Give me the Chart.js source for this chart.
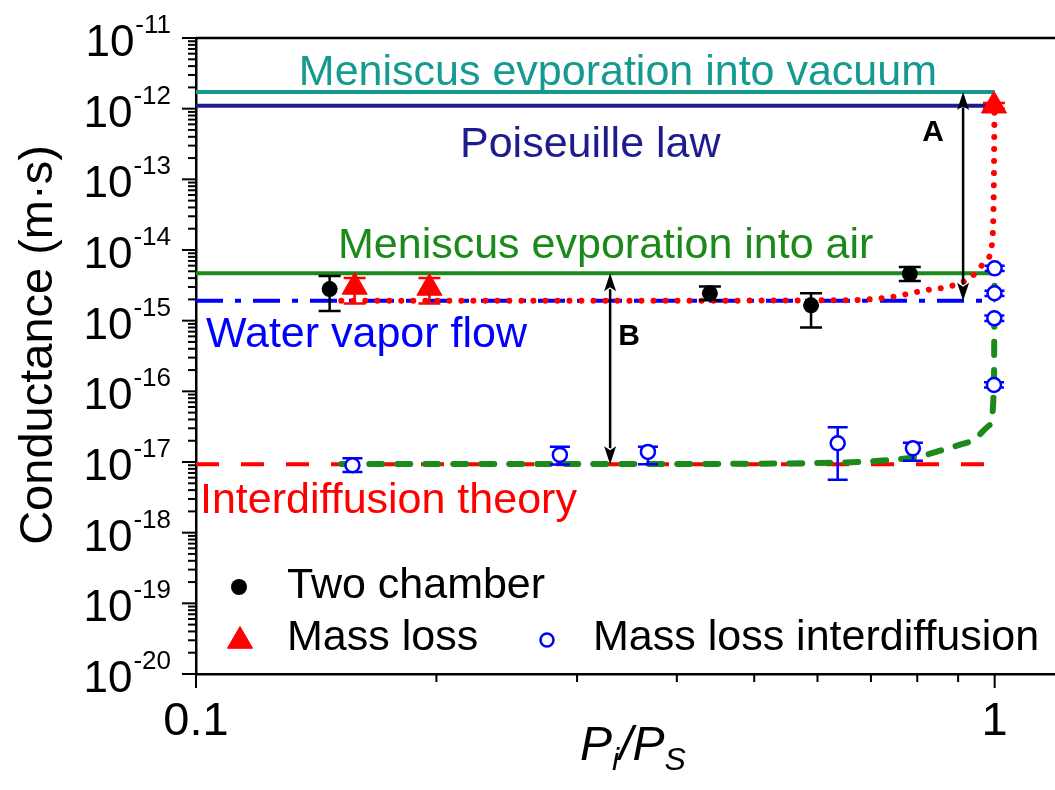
<!DOCTYPE html>
<html><head><meta charset="utf-8">
<script src="https://cdn.jsdelivr.net/npm/chart.js@4.4.1/dist/chart.umd.min.js"></script>
<style>html,body{margin:0;padding:0;background:#fff;overflow:hidden}canvas{display:block}</style>
</head><body>
<canvas id="c" width="1055" height="790"></canvas>
<script>
// ---------------- data ----------------
const xMajorTicks = [0.1, 1];
const xTickLabels = ['0.1', '1'];
const xMinorTicks = [0.2, 0.3, 0.4, 0.5, 0.6, 0.7, 0.8, 0.9];
const yMajorExponents = [-20, -19, -18, -17, -16, -15, -14, -13, -12, -11];
const yMinorFactors = [2, 3, 4, 5, 6, 7, 8, 9];

const twoChamberX    = [0.147, 0.44, 0.589, 0.783];
const twoChamberY    = [2.8e-15, 2.44e-15, 1.65e-15, 4.6e-15];
const twoChamberLow  = [1.37e-15, 1.95e-15, 8.0e-16, 3.65e-15];
const twoChamberHigh = [4.3e-15, 3.05e-15, 2.45e-15, 5.75e-15];

const massLossX    = [0.158, 0.196, 0.998];
const massLossY    = [3.0e-15, 2.9e-15, 1.1e-12];
const massLossLow  = [1.75e-15, 1.75e-15, 1.0e-12];
const massLossHigh = [4.0e-15, 4.0e-15, 1.2e-12];

const interX    = [0.157, 0.2855, 0.368, 0.636, 0.79, 0.998, 0.999, 0.9995, 1.0];
const interY    = [9.0e-18, 1.26e-17, 1.39e-17, 1.84e-17, 1.56e-17, 1.23e-16, 1.08e-15, 2.44e-15, 5.5e-15];
const interLow  = [7.2e-18, 9.2e-18, 9.3e-18, 5.6e-18, 1.04e-17, 1.13e-16, 9.9e-16, 2.24e-15, 5.05e-15];
const interHigh = [1.13e-17, 1.65e-17, 1.65e-17, 3.1e-17, 1.88e-17, 1.34e-16, 1.18e-15, 2.66e-15, 6.0e-15];

const vacuumX = [0.1, 1.0];       const vacuumY = [1.72e-12, 1.72e-12];
const poiseuilleX = [0.1, 1.0];   const poiseuilleY = [1.1e-12, 1.1e-12];
const airX = [0.1, 0.997];        const airY = [4.7e-15, 4.7e-15];
const vaporX = [0.1, 1.0];        const vaporY = [1.92e-15, 1.92e-15];
const interTheoryX = [0.1, 1.0];  const interTheoryY = [9.3e-18, 9.3e-18];

const massFitX = [0.152, 0.40, 0.66, 0.74, 0.82, 0.878, 0.936, 0.976, 0.993, 0.997, 0.9985, 0.9995];
const massFitY = [1.92e-15, 1.92e-15, 1.95e-15, 2.15e-15, 2.7e-15, 3.05e-15, 4.2e-15, 7.2e-15, 1.3e-14, 5e-14, 2.5e-13, 1.1e-12];

const interFitX = [0.152, 0.40, 0.678, 0.739, 0.799, 0.861, 0.930, 0.986, 0.998, 0.999, 0.9995, 1.0];
const interFitY = [9.4e-18, 9.4e-18, 1.0e-17, 1.07e-17, 1.18e-17, 1.48e-17, 1.92e-17, 3.34e-17, 1.23e-16, 1.08e-15, 2.44e-15, 5.0e-15];

const arrowX  = [0.913, 0.330];
const arrowY1 = [1.72e-12, 4.7e-15];
const arrowY2 = [1.92e-15, 9.3e-18];
const arrowLabels = ['A', 'B'];

const legendLabels = ['Two chamber', 'Mass loss', 'Mass loss interdiffusion'];
const lineLabels = ['Meniscus evporation into vacuum', 'Poiseuille law', 'Meniscus evporation into air', 'Water vapor flow', 'Interdiffusion theory'];

// ---------------- styling ----------------
const FONT = '"Liberation Sans", Arial, Helvetica, sans-serif';
const COL = { teal: '#149a90', navy: '#1c1c8c', green: '#1b8a1b', blue: '#0000ff', red: '#ff0000', black: '#000000' };

const zip = (xs, ys) => xs.map((x, i) => ({ x, y: ys[i] }));

const datasets = [
  { label: legendLabels[0], type: 'scatter', data: zip(twoChamberX, twoChamberY), pointStyle: 'circle', pointRadius: 8,
    backgroundColor: COL.black, borderColor: COL.black, borderWidth: 0, order: 0,
    errLow: twoChamberLow, errHigh: twoChamberHigh, errColor: COL.black, capHalf: 11 },
  { label: legendLabels[1], type: 'scatter', data: zip(massLossX, massLossY), pointStyle: 'triangle', pointRadius: 14.5,
    backgroundColor: COL.red, borderColor: COL.red, borderWidth: 1, order: 1,
    errLow: massLossLow, errHigh: massLossHigh, errColor: COL.red, capHalf: 11 },
  { label: legendLabels[2], type: 'scatter', data: zip(interX, interY), pointStyle: 'circle', pointRadius: 7,
    backgroundColor: '#ffffff', borderColor: COL.blue, borderWidth: 2.5, order: 2,
    errLow: interLow, errHigh: interHigh, errColor: COL.blue, capHalf: 10 },
  { label: 'mass fit', type: 'line', data: zip(massFitX, massFitY), borderColor: COL.red, borderWidth: 6,
    borderDash: [0.01, 12], borderCapStyle: 'round', pointRadius: 0, cubicInterpolationMode: 'monotone', order: 3 },
  { label: 'interdiffusion fit', type: 'line', data: zip(interFitX, interFitY), borderColor: COL.green, borderWidth: 6,
    borderDash: [13, 15], borderCapStyle: 'round', pointRadius: 0, cubicInterpolationMode: 'monotone', order: 4 },
  { label: lineLabels[4], type: 'line', data: zip(interTheoryX, interTheoryY), borderColor: COL.red, borderWidth: 4,
    borderDash: [23, 22], pointRadius: 0, order: 5 },
  { label: lineLabels[3], type: 'line', data: zip(vaporX, vaporY), borderColor: COL.blue, borderWidth: 4,
    borderDash: [27, 12, 6, 12], pointRadius: 0, order: 6 },
  { label: lineLabels[2], type: 'line', data: zip(airX, airY), borderColor: COL.green, borderWidth: 4, pointRadius: 0, order: 7 },
  { label: lineLabels[1], type: 'line', data: zip(poiseuilleX, poiseuilleY), borderColor: COL.navy, borderWidth: 4, pointRadius: 0, order: 8 },
  { label: lineLabels[0], type: 'line', data: zip(vacuumX, vacuumY), borderColor: COL.teal, borderWidth: 4, pointRadius: 0, order: 9 }
];

// text placed in pixel space
const textItems = [
  { text: lineLabels[0], color: COL.teal, x: 937, y: 85, align: 'right' },
  { text: lineLabels[1], color: COL.navy, x: 460, y: 157, align: 'left' },
  { text: lineLabels[2], color: COL.green, x: 338, y: 258, align: 'left' },
  { text: lineLabels[3], color: COL.blue, x: 206, y: 347, align: 'left' },
  { text: lineLabels[4], color: COL.red, x: 200, y: 513, align: 'left' }
];
const arrowLabelPos = [{ x: 933, y: 133 }, { x: 629, y: 337 }];

function drawMarker(ctx, style, x, y, r, fill, stroke, lw) {
  ctx.save();
  ctx.beginPath();
  if (style === 'triangle') {
    let rad = 0;
    ctx.moveTo(x + Math.sin(rad) * r, y - Math.cos(rad) * r);
    rad += 2 * Math.PI / 3; ctx.lineTo(x + Math.sin(rad) * r, y - Math.cos(rad) * r);
    rad += 2 * Math.PI / 3; ctx.lineTo(x + Math.sin(rad) * r, y - Math.cos(rad) * r);
    ctx.closePath();
  } else {
    ctx.arc(x, y, r, 0, Math.PI * 2);
  }
  ctx.fillStyle = fill; ctx.fill();
  if (lw) { ctx.lineWidth = lw; ctx.strokeStyle = stroke; ctx.stroke(); }
  ctx.restore();
}

const decor = {
  id: 'decor',
  beforeDatasetDraw(chart, args) {
    const ds = chart.data.datasets[args.index];
    if (!ds.errLow) return;
    const { ctx, scales: { x, y } } = chart;
    ctx.save();
    ctx.strokeStyle = ds.errColor; ctx.lineWidth = 2.5;
    ds.data.forEach((p, i) => {
      const px = x.getPixelForValue(p.x);
      const yl = y.getPixelForValue(ds.errLow[i]);
      const yh = y.getPixelForValue(ds.errHigh[i]);
      const hw = ds.capHalf;
      ctx.beginPath();
      ctx.moveTo(px, yl); ctx.lineTo(px, yh);
      ctx.moveTo(px - hw, yl); ctx.lineTo(px + hw, yl);
      ctx.moveTo(px - hw, yh); ctx.lineTo(px + hw, yh);
      ctx.stroke();
    });
    ctx.restore();
  },
  afterDraw(chart) {
    const { ctx, chartArea: a, scales: { x, y } } = chart;
    ctx.save();
    ctx.strokeStyle = '#000'; ctx.fillStyle = '#000';
    // top frame
    ctx.lineWidth = 2.5;
    ctx.beginPath(); ctx.moveTo(a.left, a.top); ctx.lineTo(a.right, a.top); ctx.stroke();
    // y ticks
    ctx.lineWidth = 2;
    yMajorExponents.forEach((e, idx) => {
      const base = Number('1e' + e);
      const py = y.getPixelForValue(base);
      ctx.beginPath(); ctx.moveTo(a.left - 14, py); ctx.lineTo(a.left, py); ctx.stroke();
      if (idx < yMajorExponents.length - 1) {
        yMinorFactors.forEach(f => {
          const pm = y.getPixelForValue(f * base);
          ctx.beginPath(); ctx.moveTo(a.left - 8, pm); ctx.lineTo(a.left, pm); ctx.stroke();
        });
      }
      const expStr = '-' + Math.abs(e);
      ctx.textAlign = 'right'; ctx.textBaseline = 'alphabetic';
      ctx.font = `26px ${FONT}`;
      const ew = ctx.measureText(expStr).width;
      ctx.fillText(expStr, 171, py - 5);
      ctx.font = `44px ${FONT}`;
      ctx.fillText('10', 171 - ew - 1, py + 18);
    });
    // x ticks
    xMajorTicks.forEach((v, i) => {
      const px = x.getPixelForValue(v);
      ctx.beginPath(); ctx.moveTo(px, a.bottom); ctx.lineTo(px, a.bottom + 14); ctx.stroke();
      ctx.font = `47px ${FONT}`; ctx.textAlign = 'center'; ctx.textBaseline = 'alphabetic';
      ctx.fillText(xTickLabels[i], px, 735);
    });
    xMinorTicks.forEach(v => {
      const px = x.getPixelForValue(v);
      ctx.beginPath(); ctx.moveTo(px, a.bottom); ctx.lineTo(px, a.bottom + 8); ctx.stroke();
    });
    // axis titles
    ctx.save();
    ctx.translate(52, 345); ctx.rotate(-Math.PI / 2);
    ctx.font = `47px ${FONT}`; ctx.textAlign = 'center'; ctx.textBaseline = 'alphabetic';
    ctx.fillText('Conductance (m\u00B7s)', 0, 0);
    ctx.restore();
    const parts = [
      { t: 'P', f: `italic 48px ${FONT}`, dy: 0 },
      { t: 'i', f: `italic 32px ${FONT}`, dy: 10 },
      { t: '/', f: `italic 48px ${FONT}`, dy: 0 },
      { t: 'P', f: `italic 48px ${FONT}`, dy: 0 },
      { t: 'S', f: `italic 32px ${FONT}`, dy: 10 }
    ];
    let tw = 0;
    parts.forEach(p => { ctx.font = p.f; p.w = ctx.measureText(p.t).width; tw += p.w; });
    let cx = 633 - tw / 2;
    ctx.textAlign = 'left';
    parts.forEach(p => { ctx.font = p.f; ctx.fillText(p.t, cx, 760 + p.dy); cx += p.w; });
    // line labels
    textItems.forEach(t => {
      ctx.font = `43px ${FONT}`; ctx.fillStyle = t.color; ctx.textAlign = t.align; ctx.textBaseline = 'alphabetic';
      ctx.fillText(t.text, t.x, t.y);
    });
    // arrows
    ctx.fillStyle = '#000'; ctx.strokeStyle = '#000'; ctx.lineWidth = 2.5;
    arrowX.forEach((xv, i) => {
      const px = x.getPixelForValue(xv);
      const y1 = y.getPixelForValue(arrowY1[i]);
      const y2 = y.getPixelForValue(arrowY2[i]);
      const hl = 18, hw = 6;
      ctx.beginPath(); ctx.moveTo(px, y1 + hl - 2); ctx.lineTo(px, y2 - hl + 2); ctx.stroke();
      ctx.beginPath(); ctx.moveTo(px, y1); ctx.lineTo(px - hw, y1 + hl); ctx.lineTo(px, y1 + hl - 4); ctx.lineTo(px + hw, y1 + hl); ctx.closePath(); ctx.fill();
      ctx.beginPath(); ctx.moveTo(px, y2); ctx.lineTo(px - hw, y2 - hl); ctx.lineTo(px, y2 - hl + 4); ctx.lineTo(px + hw, y2 - hl); ctx.closePath(); ctx.fill();
      ctx.font = `bold 30px ${FONT}`; ctx.textAlign = 'center'; ctx.textBaseline = 'middle';
      ctx.fillText(arrowLabels[i], arrowLabelPos[i].x, arrowLabelPos[i].y);
    });
    // legend
    const ds = chart.data.datasets;
    drawMarker(ctx, 'circle', 239, 587, 8, ds[0].backgroundColor, ds[0].borderColor, 0);
    drawMarker(ctx, 'triangle', 240, 641, 14.5, ds[1].backgroundColor, ds[1].borderColor, 1);
    drawMarker(ctx, 'circle', 547, 640, 6.5, '#ffffff', ds[2].borderColor, 2.5);
    ctx.fillStyle = '#000'; ctx.font = `43px ${FONT}`; ctx.textAlign = 'left'; ctx.textBaseline = 'alphabetic';
    ctx.fillText(ds[0].label, 287, 598);
    ctx.fillText(ds[1].label, 287, 650);
    ctx.fillText(ds[2].label, 593, 650);
    ctx.restore();
  }
};

new Chart(document.getElementById('c'), {
  type: 'scatter',
  data: { datasets },
  options: {
    responsive: false, devicePixelRatio: 1, animation: false,
    layout: { autoPadding: false, padding: { top: 38, left: 0, right: 0, bottom: 0 } },
    plugins: { legend: { display: false }, tooltip: { enabled: false } },
    elements: { line: { tension: 0 } },
    scales: {
      x: { type: 'logarithmic', min: 0.1, max: 1.19,
           grid: { display: false }, ticks: { display: false },
           border: { display: true, color: '#000', width: 2.5 },
           afterFit(s) { s.height = 116; s.paddingLeft = 0; s.paddingRight = 0; } },
      y: { type: 'logarithmic', min: 1e-20, max: 1e-11,
           grid: { display: false }, ticks: { display: false },
           border: { display: true, color: '#000', width: 2.5 },
           afterFit(s) { s.width = 196; s.paddingTop = 0; s.paddingBottom = 0; } }
    }
  },
  plugins: [decor]
});
</script>
</body></html>
